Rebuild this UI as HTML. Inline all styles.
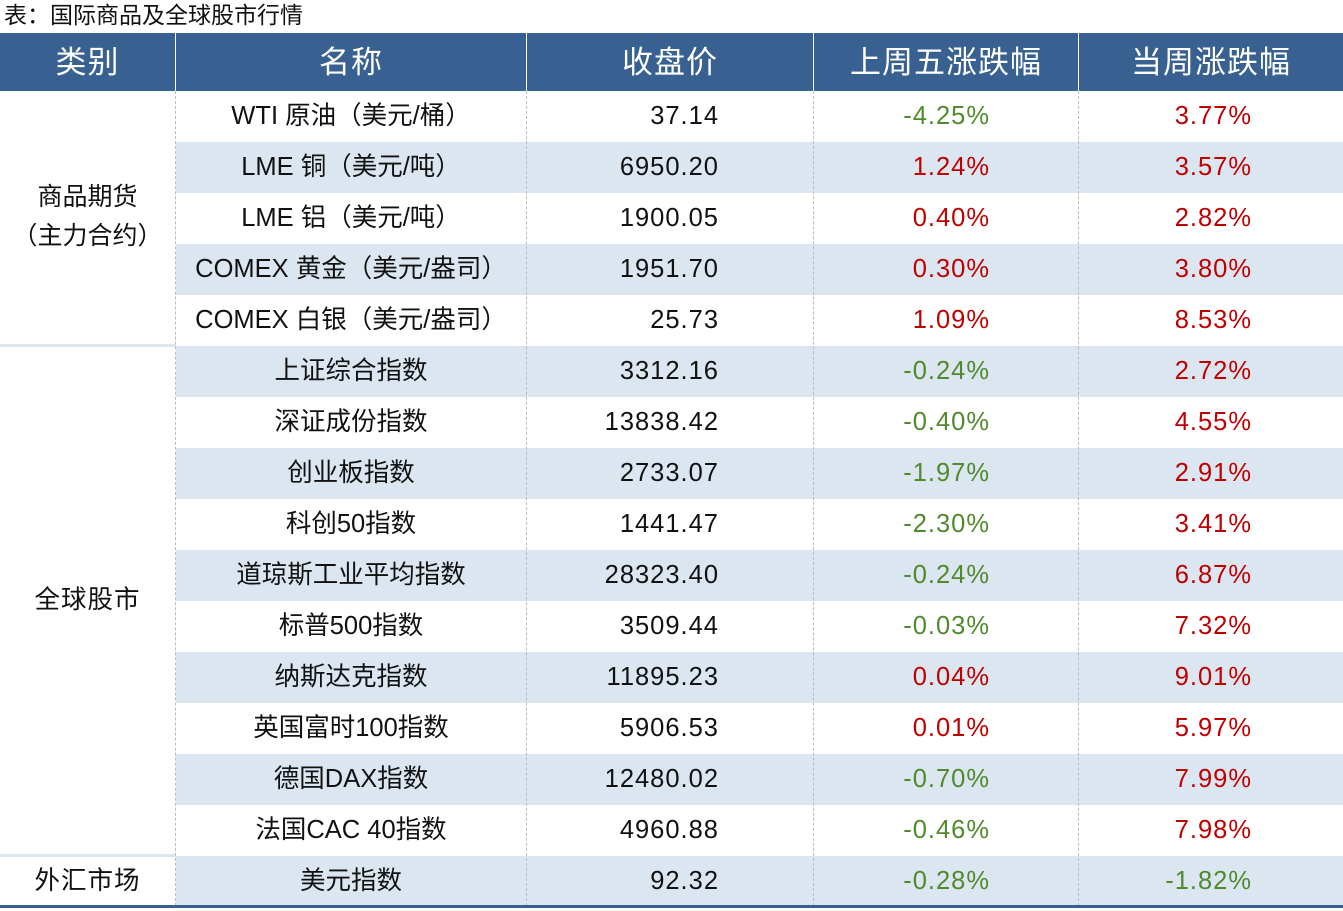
<!DOCTYPE html>
<html><head><meta charset="utf-8"><style>
body{margin:0;width:1343px;height:911px;background:#fff;position:relative;overflow:hidden;font-family:"Liberation Sans","Noto Sans CJK SC",sans-serif;}
.a{position:absolute;}
.t{position:absolute;height:51px;line-height:51px;font-size:25.5px;letter-spacing:1px;color:#111;white-space:nowrap;}
.h{position:absolute;top:33px;height:58px;line-height:60px;font-size:31px;color:#fff;text-align:center;letter-spacing:1px;}
.g{color:#4f8a2c}.r{color:#c00000}
.v{position:absolute;width:0;border-left:1px dashed #bbb;top:91px;height:815px;}
</style></head><body>
<div class="a" style="left:4px;top:0;font-size:23px;line-height:31px;color:#111">表：国际商品及全球股市行情</div>
<div class="a" style="left:0;top:33px;width:1343px;height:58px;background:#386191"></div>
<div class="a" style="left:175px;top:33px;width:1px;height:58px;background:#fff"></div>
<div class="a" style="left:526px;top:33px;width:1px;height:58px;background:#fff"></div>
<div class="a" style="left:813px;top:33px;width:1px;height:58px;background:#fff"></div>
<div class="a" style="left:1078px;top:33px;width:1px;height:58px;background:#fff"></div>
<div class="h" style="left:0;width:175px">类别</div>
<div class="h" style="left:176px;width:350px">名称</div>
<div class="h" style="left:527px;width:286px">收盘价</div>
<div class="h" style="left:814px;width:264px">上周五涨跌幅</div>
<div class="h" style="left:1079px;width:264px">当周涨跌幅</div>
<div id="rows"></div>
<div class="a" style="left:0;top:344px;width:176px;height:3px;background:#dce6f1"></div>
<div class="a" style="left:0;top:854px;width:176px;height:3px;background:#dce6f1"></div>
<div class="v" style="left:175px"></div><div class="v" style="left:526px"></div><div class="v" style="left:813px"></div><div class="v" style="left:1078px"></div>
<div class="a" style="left:0;top:905px;width:1343px;height:3px;background:#386191"></div>
<div class="a" style="left:0;top:178px;width:175px;text-align:center;font-size:25px;line-height:39px;color:#111">商品期货<br>（主力合约）</div>
<div class="t" style="left:0;top:575px;width:175px;text-align:center">全球股市</div>
<div class="t" style="left:0;top:856px;width:175px;text-align:center">外汇市场</div>
<script>
var d=[["WTI 原油（美元/桶）","37.14","-4.25%","3.77%"],["LME 铜（美元/吨）","6950.20","1.24%","3.57%"],["LME 铝（美元/吨）","1900.05","0.40%","2.82%"],["COMEX 黄金（美元/盎司）","1951.70","0.30%","3.80%"],["COMEX 白银（美元/盎司）","25.73","1.09%","8.53%"],["上证综合指数","3312.16","-0.24%","2.72%"],["深证成份指数","13838.42","-0.40%","4.55%"],["创业板指数","2733.07","-1.97%","2.91%"],["科创50指数","1441.47","-2.30%","3.41%"],["道琼斯工业平均指数","28323.40","-0.24%","6.87%"],["标普500指数","3509.44","-0.03%","7.32%"],["纳斯达克指数","11895.23","0.04%","9.01%"],["英国富时100指数","5906.53","0.01%","5.97%"],["德国DAX指数","12480.02","-0.70%","7.99%"],["法国CAC 40指数","4960.88","-0.46%","7.98%"],["美元指数","92.32","-0.28%","-1.82%"]];
var h="";
d.forEach(function(r,i){var y=91+i*51;
if(i%2==1)h+='<div class="a" style="left:176px;top:'+y+'px;width:1167px;height:51px;background:#dce6f1"></div>';
function c(s){return s[0]=="-"?"g":"r"}
h+='<div class="t" style="left:176px;top:'+y+'px;width:350px;text-align:center;letter-spacing:0">'+r[0]+'</div>';
h+='<div class="t" style="left:527px;top:'+y+'px;width:192px;text-align:right">'+r[1]+'</div>';
h+='<div class="t '+c(r[2])+'" style="left:814px;top:'+y+'px;width:176px;text-align:right">'+r[2]+'</div>';
h+='<div class="t '+c(r[3])+'" style="left:1079px;top:'+y+'px;width:173px;text-align:right">'+r[3]+'</div>';});
document.getElementById("rows").innerHTML=h;
</script>
</body></html>
